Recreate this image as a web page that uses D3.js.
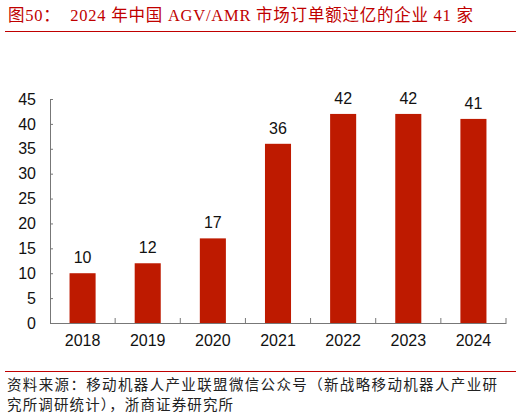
<!DOCTYPE html>
<html>
<head>
<meta charset="utf-8">
<script src="https://cdn.jsdelivr.net/npm/d3@7"></script>
<style>
  body { margin: 0; background: #fff; }
  svg { display: block; }
</style>
</head>
<body>
<div id="chart"></div>
<script>
// chart data
const years = ["2018", "2019", "2020", "2021", "2022", "2023", "2024"];
const counts = [10, 12, 17, 36, 42, 42, 41];
const yTicks = [0, 5, 10, 15, 20, 25, 30, 35, 40, 45];

const titleText = "图50：  2024 年中国 AGV/AMR 市场订单额过亿的企业 41 家";
const sourceLines = [
    "资料来源：移动机器人产业联盟微信公众号（新战略移动机器人产业研",
    "究所调研统计），浙商证券研究所"
];
const sourceWidths = [490, 226];

const W = 521, H = 417;
const margin = {top: 99, right: 15, bottom: 94, left: 50},
      width = W - margin.left - margin.right,
      height = H - margin.top - margin.bottom;

const red = "#c00000";
const barColor = "#be1a00";

const root = d3.select("#chart")
               .append("svg")
               .attr("width", W)
               .attr("height", H);

// title + rule
root.append("text")
    .attr("x", 8)
    .attr("y", 21)
    .attr("fill", red)
    .attr("textLength", 465)
    .attr("lengthAdjust", "spacing")
    .style("font-family", "'Liberation Serif', 'Noto Sans CJK SC', serif")
    .style("font-size", "16.5px")
    .style("white-space", "pre")
    .text(titleText);

root.append("line")
    .attr("x1", 5).attr("x2", 516)
    .attr("y1", 31.5).attr("y2", 31.5)
    .attr("stroke", red)
    .attr("stroke-width", 1);

// footer rule + source
root.append("line")
    .attr("x1", 5).attr("x2", 516)
    .attr("y1", 371.5).attr("y2", 371.5)
    .attr("stroke", red)
    .attr("stroke-width", 1);

sourceLines.forEach((s, i) => {
    root.append("text")
        .attr("x", 7)
        .attr("y", 390 + i * 20)
        .attr("fill", "#222")
        .attr("textLength", sourceWidths[i])
        .attr("lengthAdjust", "spacing")
        .style("font-family", "'Noto Sans CJK SC', sans-serif")
        .style("font-size", "14.5px")
        .text(s);
});

const svg = root.append("g")
                .attr("transform", `translate(${margin.left},${margin.top})`);

const x = d3.scaleBand()
            .domain(years)
            .range([0, width])
            .paddingInner(0)
            .paddingOuter(0);

const y = d3.scaleLinear()
            .domain([0, 45])
            .range([height, 0]);

const barW = x.bandwidth() * 0.4;

svg.selectAll("rect.bar")
   .data(years)
   .enter()
   .append("rect")
   .attr("class", "bar")
   .attr("x", d => x(d) + (x.bandwidth() - barW) / 2)
   .attr("y", (d, i) => y(counts[i]))
   .attr("width", barW)
   .attr("height", (d, i) => height - y(counts[i]))
   .attr("fill", barColor);

// value labels
svg.selectAll("text.val")
   .data(years)
   .enter()
   .append("text")
   .attr("class", "val")
   .attr("x", d => x(d) + x.bandwidth() / 2)
   .attr("y", (d, i) => y(counts[i]) - 10)
   .attr("text-anchor", "middle")
   .attr("fill", "#111")
   .style("font-family", "'Liberation Sans', Arial, sans-serif")
   .style("font-size", "16px")
   .text((d, i) => counts[i]);

// y axis
const yAxis = svg.append("g")
   .call(d3.axisLeft(y).tickValues(yTicks).tickSizeInner(-3).tickSizeOuter(0).tickPadding(14));
yAxis.select(".domain").attr("stroke", "#777");
yAxis.selectAll(".tick line").attr("stroke", "#777");
yAxis.selectAll("text")
     .attr("fill", "#111")
     .style("font-family", "'Liberation Sans', Arial, sans-serif")
     .style("font-size", "16px");

// x axis: ticks sit between categories, pointing up
const xAxis = svg.append("g")
   .attr("transform", `translate(0,${height})`)
   .call(d3.axisBottom(x).tickSize(0).tickPadding(12));
xAxis.select(".domain").attr("stroke", "#777");
xAxis.selectAll("text")
     .attr("fill", "#111")
     .style("font-family", "'Liberation Sans', Arial, sans-serif")
     .style("font-size", "16px");

xAxis.selectAll("line.sep")
     .data(years)
     .enter()
     .append("line")
     .attr("class", "sep")
     .attr("x1", d => x(d) + x.bandwidth())
     .attr("x2", d => x(d) + x.bandwidth())
     .attr("y1", 0)
     .attr("y2", -5)
     .attr("stroke", "#777");
</script>
</body>
</html>
